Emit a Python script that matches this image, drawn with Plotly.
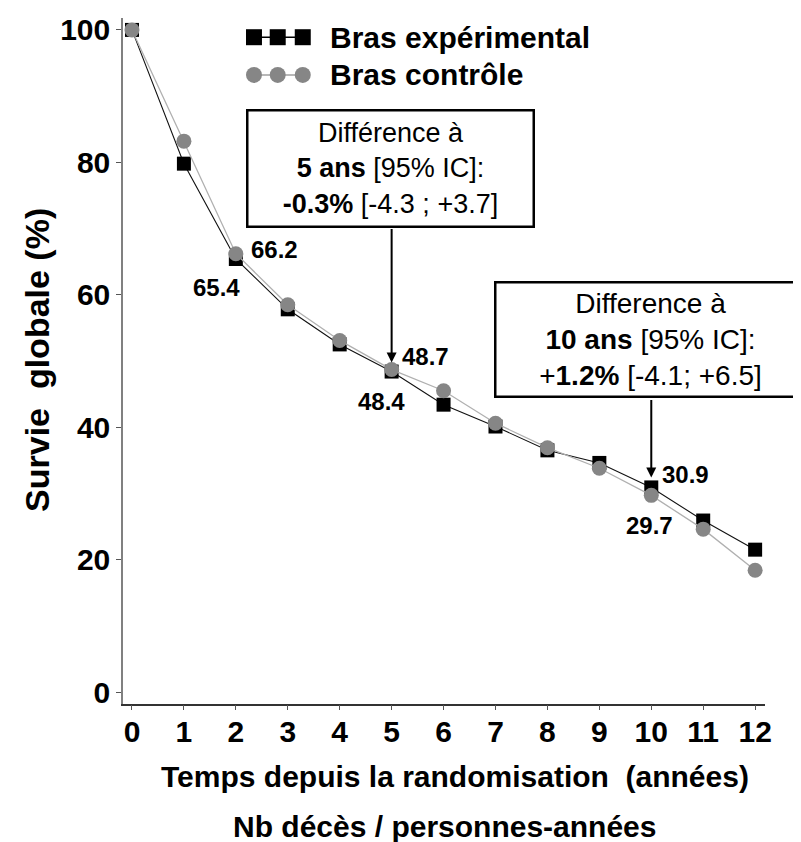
import plotly.graph_objects as go

years = list(range(13))
exp_vals = [100, 79.8, 65.4, 57.8, 52.5, 48.4, 43.4, 40.1, 36.5, 34.6, 30.9, 25.9, 21.5]
ctl_vals = [100, 83.2, 66.2, 58.5, 53.1, 48.7, 45.5, 40.6, 36.9, 33.8, 29.7, 24.6, 18.4]
exp_name = "Bras expérimental"
ctl_name = "Bras contrôle"
x_ticks = list(range(13))
y_ticks = [0, 20, 40, 60, 80, 100]
labelled = [(2, "ctl", 39, 4), (2, "exp", -19, -28), (5, "ctl", 34, 13),
            (5, "exp", -10, -30), (10, "exp", 34, 13), (10, "ctl", -2, -30)]

FONT = "Liberation Sans, Arial, sans-serif"
BM = 8  # browser body margin compensation
XR = [-0.173, 12.19]

fig = go.Figure()
fig.add_trace(go.Scatter(x=years, y=exp_vals, mode="lines+markers", name=exp_name,
                         line=dict(color="#111111", width=1.1),
                         marker=dict(symbol="square", size=14, color="#000000"),
                         showlegend=False))
fig.add_trace(go.Scatter(x=years, y=ctl_vals, mode="lines+markers", name=ctl_name,
                         line=dict(color="#b0b0b0", width=1.3),
                         marker=dict(symbol="circle", size=15, color="#868686"),
                         showlegend=False))

# legend drawn on an overlay axis (0..1 = plot area)
leg_x = [0.204, 0.241, 0.280]
fig.add_trace(go.Scatter(x=leg_x, y=[0.972] * 3, xaxis="x2", yaxis="y2", mode="lines+markers",
                         line=dict(color="#000000", width=1.5),
                         marker=dict(symbol="square", size=16, color="#000000"),
                         showlegend=False, hoverinfo="skip"))
fig.add_trace(go.Scatter(x=leg_x, y=[0.917] * 3, xaxis="x2", yaxis="y2", mode="lines+markers",
                         line=dict(color="#a0a0a0", width=1.5),
                         marker=dict(symbol="circle", size=16, color="#868686"),
                         showlegend=False, hoverinfo="skip"))
# invisible trace to activate the tick-mark axis
fig.add_trace(go.Scatter(x=[0], y=[0], xaxis="x3", yaxis="y", mode="markers",
                         marker=dict(opacity=0), showlegend=False, hoverinfo="skip"))

vals = {"exp": exp_vals, "ctl": ctl_vals}
annotations = [
    dict(xref="x2", yref="y2", x=0.319, y=0.972, text="<b>" + exp_name + "</b>", showarrow=False,
         xanchor="left", yanchor="middle", font=dict(size=30, color="#000")),
    dict(xref="x2", yref="y2", x=0.319, y=0.917, text="<b>" + ctl_name + "</b>", showarrow=False,
         xanchor="left", yanchor="middle", font=dict(size=30, color="#000")),
    # boxes
    dict(xref="x2", yref="y2", x=0.4174, y=0.780, xanchor="center", yanchor="middle",
         text="Différence à<br><b>5 ans</b> [95% IC]:<br><b>-0.3%</b> [-4.3 ; +3.7]",
         showarrow=False, font=dict(size=27, color="#000"), align="center",
         bordercolor="#000", borderwidth=2.5, borderpad=0, width=284, height=114, bgcolor="white"),
    dict(xref="x2", yref="y2", x=0.821, y=0.531, xanchor="center", yanchor="middle",
         text="Difference à<br><b>10 ans</b> [95% IC]:<br>+<b>1.2%</b> [-4.1; +6.5]",
         showarrow=False, font=dict(size=28, color="#000"), align="center",
         bordercolor="#000", borderwidth=2.5, borderpad=0, width=308, height=112, bgcolor="white"),
    # arrows
    dict(x=5, y=exp_vals[5], xref="x", yref="y", ax=0, ay=-144, axref="pixel", ayref="pixel",
         text="", showarrow=True, arrowhead=2, arrowsize=1, arrowwidth=2, arrowcolor="#000", standoff=9),
    dict(x=10, y=exp_vals[10], xref="x", yref="y", ax=0, ay=-89, axref="pixel", ayref="pixel",
         text="", showarrow=True, arrowhead=2, arrowsize=1, arrowwidth=2, arrowcolor="#000", standoff=10),
    # axis titles
    dict(xref="paper", yref="paper", x=-0.134, y=0.5015, textangle=-90, xanchor="center", yanchor="middle",
         text="<b>Survie&nbsp; globale (%)</b>", showarrow=False, font=dict(size=34, color="#000")),
    dict(xref="paper", yref="paper", x=0.517, y=-0.105, xanchor="center", yanchor="middle",
         text="<b>Temps depuis la randomisation&nbsp; (années)</b>", showarrow=False,
         font=dict(size=30, color="#000")),
    dict(xref="paper", yref="paper", x=0.5016, y=-0.179, xanchor="center", yanchor="middle",
         text="<b>Nb décès / personnes-années</b>", showarrow=False, font=dict(size=30, color="#000")),
]
for xi, key, dx, dy in labelled:
    v = vals[key][xi]
    annotations.append(dict(x=xi, y=v, text="<b>%.1f</b>" % v, showarrow=False,
                            xanchor="center", yanchor="middle",
                            xshift=dx, yshift=dy, font=dict(size=24, color="#000")))

fig.update_layout(
    width=801 - BM, height=842 - BM,
    margin=dict(l=123 - BM, r=36, t=18 - BM, b=138, autoexpand=False),
    plot_bgcolor="white", paper_bgcolor="white",
    font=dict(family=FONT, color="#000"),
    showlegend=False,
    xaxis=dict(range=XR, tickvals=x_ticks, ticktext=["<b>%d</b>" % v for v in x_ticks],
               tickfont=dict(size=30), showgrid=False, zeroline=False,
               showline=True, linecolor="#333", linewidth=1.5, ticks="",
               automargin=False),
    xaxis3=dict(overlaying="x", range=XR, tickvals=x_ticks, showticklabels=False, side="bottom",
                showgrid=False, zeroline=False, showline=False, ticks="outside", ticklen=5,
                tickcolor="#555", anchor="y"),
    yaxis=dict(range=[-1.81, 101.8], tickvals=y_ticks, ticktext=["<b>%d</b>" % v for v in y_ticks],
               tickfont=dict(size=30), showgrid=False, zeroline=False,
               showline=True, linecolor="#808080", linewidth=1.5, ticks="outside", ticklen=5,
               tickcolor="#555", automargin=False),
    xaxis2=dict(overlaying="x", range=[0, 1], visible=False),
    yaxis2=dict(overlaying="y", range=[0, 1], visible=False),
    annotations=annotations,
)

fig.write_html("out.html")
